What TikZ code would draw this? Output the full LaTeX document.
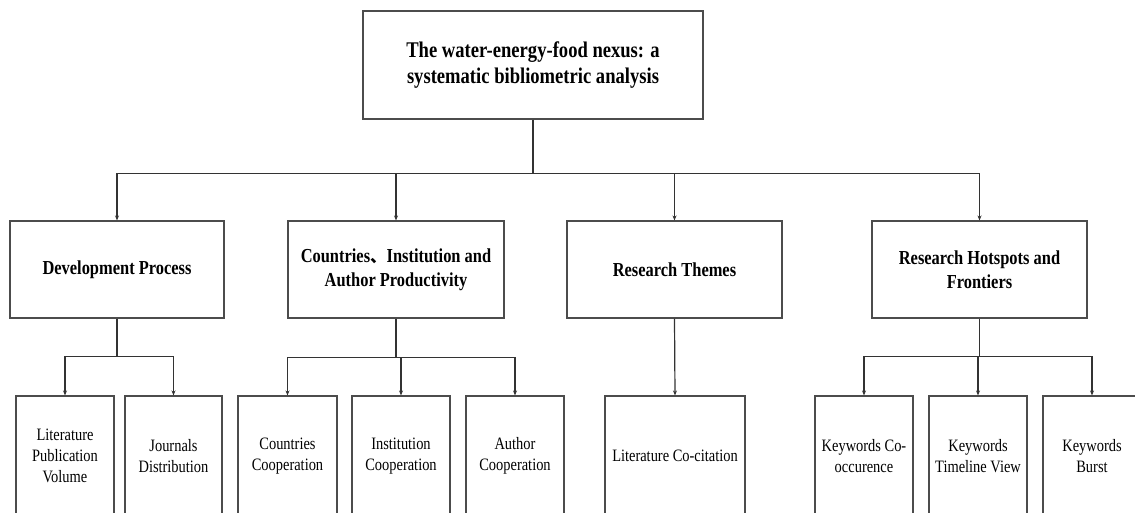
\documentclass[tikz,border=0pt]{standalone}
\usepackage{fontspec}
\setmainfont{Liberation Serif}[FakeStretch=0.83]
\newfontfamily\cjk{Noto Sans CJK SC}
\usetikzlibrary{arrows.meta}
\tikzset{
  box/.style={draw=black!70, line width=1.1pt, fill=white, inner sep=0pt, align=center},
  topbox/.style={box, minimum width=340pt, minimum height=108pt, font=\fontsize{22.4}{26}\selectfont\bfseries},
  midbox/.style={box, minimum width=215pt, minimum height=97pt, font=\fontsize{19.8}{24}\selectfont\bfseries},
  leafbox/.style={box, minimum width=98pt, minimum height=120pt, font=\fontsize{17.4}{21}\selectfont},
  wire/.style={draw=black!80, line width=1.2pt},
  arr/.style={wire, -{Stealth[length=5pt,width=4pt]}}
}
\begin{document}
\begin{tikzpicture}[x=1pt,y=-1pt]
\useasboundingbox (0,0) rectangle (1135,513);
\clip (0,0) rectangle (1135,513);
\fill[white] (0,0) rectangle (1135,513);
% top
\node[topbox] (top) at (533,65) {The water-energy-food nexus: a\\systematic bibliometric analysis};
% level 2
\node[midbox, minimum width=214pt] (dev) at (117,269.5) {Development Process};
\node[midbox, minimum width=216pt] (cap) at (396,269.5) {Countries{\cjk\fontsize{16.5}{24}\selectfont 、}Institution and\\Author Productivity};
\node[midbox] (rt) at (674.5,269.5) {Research Themes};
\node[midbox] (hot) at (979.5,269.5) {Research Hotspots and\\Frontiers};
% level 3
\node[leafbox] (lpv) at (65,456) {Literature\\Publication\\Volume};
\node[leafbox, minimum width=97pt] (jd) at (173.5,456) {Journals\\Distribution};
\node[leafbox, minimum width=99pt] (cc) at (287.5,456) {Countries\\Cooperation};
\node[leafbox] (ic) at (401,456) {Institution\\Cooperation};
\node[leafbox] (ac) at (515,456) {Author\\Cooperation};
\node[leafbox, minimum width=140pt] (lcc) at (675,456) {Literature Co-citation};
\node[leafbox] (kc) at (864,456) {Keywords Co-\\occurence};
\node[leafbox] (kt) at (978,456) {Keywords\\Timeline View};
\node[leafbox] (kb) at (1092,456) {Keywords\\Burst};
% connectors
\draw[wire] (top.south) -- ++(0,54) coordinate (j0);
\draw[arr] (j0) -| (dev.north);
\draw[arr] (j0) -| (cap.north);
\draw[arr] (j0) -| (rt.north);
\draw[arr] (j0) -| (hot.north);
\draw[wire] (dev.south) -- ++(0,38) coordinate (j1);
\draw[arr] (j1) -| (lpv.north);
\draw[arr] (j1) -| (jd.north);
\draw[wire] (cap.south) -- ++(0,39) coordinate (j2);
\draw[arr] (j2) -| (cc.north);
\draw[arr] (j2) -| (ic.north);
\draw[arr] (j2) -| (ac.north);
\draw[arr] (rt.south) -- (lcc.north);
\draw[wire] (hot.south) -- ++(0,38) coordinate (j4);
\draw[arr] (j4) -| (kc.north);
\draw[arr] (j4) -| (kt.north);
\draw[arr] (j4) -| (kb.north);
\end{tikzpicture}
\end{document}
